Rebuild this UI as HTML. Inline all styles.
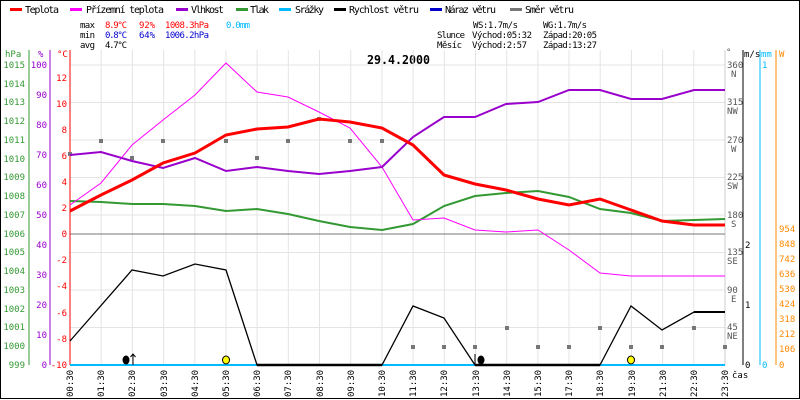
<!DOCTYPE html>
<html><head><meta charset="utf-8"><style>
body{margin:0;background:#fff}
svg{display:block;font-family:"DejaVu Sans Mono","Liberation Mono",monospace}
</style></head><body>
<svg width="800" height="400" viewBox="0 0 800 400" xmlns="http://www.w3.org/2000/svg">
<rect x="0" y="0" width="800" height="400" fill="#fff"/>
<rect x="0.5" y="0.5" width="799" height="398" fill="none" stroke="#000"/>
<!-- legend -->
<g font-size="10" fill="#000" lengthAdjust="spacingAndGlyphs">
<rect x="10" y="8" width="12" height="3" fill="#f00"/><text x="25" y="13" textLength="34">Teplota</text>
<rect x="70" y="8" width="12" height="3" fill="#f0f"/><text x="86" y="13" textLength="78">Přízemní teplota</text>
<rect x="176" y="8" width="12" height="3" fill="#90c"/><text x="191" y="13" textLength="33">Vlhkost</text>
<rect x="236" y="8" width="12" height="3" fill="#393"/><text x="250" y="13" textLength="19">Tlak</text>
<rect x="279" y="8" width="12" height="3" fill="#0bf"/><text x="295" y="13" textLength="29">Srážky</text>
<rect x="334" y="8" width="12" height="3" fill="#000"/><text x="349" y="13" textLength="70">Rychlost větru</text>
<rect x="430" y="8" width="12" height="3" fill="#00c"/><text x="445" y="13" textLength="51">Náraz větru</text>
<rect x="510" y="8" width="12" height="3" fill="#777"/><text x="525" y="13" textLength="49">Směr větru</text>
</g>
<g font-size="9" lengthAdjust="spacingAndGlyphs">
<text x="80" y="28" textLength="15">max</text><text x="105" y="28" fill="#f00" textLength="22">8.9°C</text><text x="139" y="28" fill="#f00" textLength="16">92%</text><text x="165" y="28" fill="#f00" textLength="44">1008.3hPa</text><text x="226" y="28" fill="#0bf" textLength="24">0.0mm</text>
<text x="80" y="38" textLength="15">min</text><text x="105" y="38" fill="#00c" textLength="22">0.8°C</text><text x="139" y="38" fill="#00c" textLength="16">64%</text><text x="165" y="38" fill="#00c" textLength="44">1006.2hPa</text>
<text x="80" y="48" textLength="15">avg</text><text x="105" y="48" textLength="22">4.7°C</text>
<text x="473" y="28" textLength="45">WS:1.7m/s</text><text x="543" y="28" textLength="44">WG:1.7m/s</text>
<text x="437" y="38" textLength="28">Slunce</text><text x="472" y="38" textLength="60">Východ:05:32</text><text x="543" y="38" textLength="54">Západ:20:05</text>
<text x="437" y="48" textLength="25">Měsíc</text><text x="472" y="48" textLength="55">Východ:2:57</text><text x="543" y="48" textLength="54">Západ:13:27</text>
</g>
<text x="367" y="64" font-size="12" font-weight="bold" textLength="63" lengthAdjust="spacingAndGlyphs">29.4.2000</text>
<!-- grid -->
<g stroke="#e4e4e4" stroke-width="1">
<line x1="70" y1="65" x2="725" y2="65"/><line x1="70" y1="102.5" x2="725" y2="102.5"/><line x1="70" y1="140" x2="725" y2="140"/><line x1="70" y1="177.5" x2="725" y2="177.5"/><line x1="70" y1="215" x2="725" y2="215"/><line x1="70" y1="252.5" x2="725" y2="252.5"/><line x1="70" y1="290" x2="725" y2="290"/><line x1="70" y1="327.5" x2="725" y2="327.5"/>
<line x1="101.2" y1="50" x2="101.2" y2="365"/><line x1="132.4" y1="50" x2="132.4" y2="365"/><line x1="163.6" y1="50" x2="163.6" y2="365"/><line x1="194.8" y1="50" x2="194.8" y2="365"/><line x1="226" y1="50" x2="226" y2="365"/><line x1="257.1" y1="50" x2="257.1" y2="365"/><line x1="288.3" y1="50" x2="288.3" y2="365"/><line x1="319.5" y1="50" x2="319.5" y2="365"/><line x1="350.7" y1="50" x2="350.7" y2="365"/><line x1="381.9" y1="50" x2="381.9" y2="365"/><line x1="413.1" y1="50" x2="413.1" y2="365"/><line x1="444.3" y1="50" x2="444.3" y2="365"/><line x1="475.5" y1="50" x2="475.5" y2="365"/><line x1="506.7" y1="50" x2="506.7" y2="365"/><line x1="537.9" y1="50" x2="537.9" y2="365"/><line x1="569" y1="50" x2="569" y2="365"/><line x1="600.2" y1="50" x2="600.2" y2="365"/><line x1="631.4" y1="50" x2="631.4" y2="365"/><line x1="662.6" y1="50" x2="662.6" y2="365"/><line x1="693.8" y1="50" x2="693.8" y2="365"/>
<line x1="725" y1="50" x2="725" y2="365" stroke="#ccc"/>
</g>
<line x1="70" y1="234" x2="725" y2="234" stroke="#777"/>
<!-- left axes -->
<g font-size="9">
<line x1="29" y1="50" x2="29" y2="365" stroke="#393"/>
<line x1="50" y1="50" x2="50" y2="365" stroke="#90c"/>
<line x1="70" y1="50" x2="70" y2="365" stroke="#f00"/>
<text x="5" y="57" fill="#393">hPa</text><text x="38" y="57" fill="#90c">%</text><text x="57" y="57" fill="#f00">°C</text>
<g fill="#393" text-anchor="end">
<text x="25" y="68">1015</text><text x="25" y="87">1014</text><text x="25" y="105">1013</text><text x="25" y="124">1012</text><text x="25" y="143">1011</text><text x="25" y="162">1010</text><text x="25" y="180">1009</text><text x="25" y="199">1008</text><text x="25" y="218">1007</text><text x="25" y="237">1006</text><text x="25" y="255">1005</text><text x="25" y="274">1004</text><text x="25" y="293">1003</text><text x="25" y="312">1002</text><text x="25" y="330">1001</text><text x="25" y="349">1000</text><text x="25" y="368">999</text>
</g>
<g fill="#90c" text-anchor="end">
<text x="47" y="68">100</text><text x="47" y="98">90</text><text x="47" y="128">80</text><text x="47" y="158">70</text><text x="47" y="188">60</text><text x="47" y="218">50</text><text x="47" y="248">40</text><text x="47" y="278">30</text><text x="47" y="308">20</text><text x="47" y="338">10</text><text x="47" y="368">0</text>
</g>
<g fill="#f00" text-anchor="end">
<text x="67" y="81">12</text><text x="67" y="107">10</text><text x="67" y="133">8</text><text x="67" y="159">6</text><text x="67" y="185">4</text><text x="67" y="211">2</text><text x="67" y="237">0</text><text x="67" y="263">-2</text><text x="67" y="289">-4</text><text x="67" y="316">-6</text><text x="67" y="342">-8</text><text x="67" y="368">-10</text>
</g>
</g>
<!-- right axes -->
<g font-size="9">
<line x1="743" y1="50" x2="743" y2="365" stroke="#000"/>
<line x1="760" y1="50" x2="760" y2="365" stroke="#0bf"/>
<line x1="776" y1="50" x2="776" y2="365" stroke="#f80"/>
<text x="726" y="55" fill="#555">°</text>
<text x="744" y="57">m/s</text><text x="761" y="57" fill="#0bf">mm</text><text x="779" y="57" fill="#f80">W</text>
<g fill="#555">
<text x="727" y="68">360</text><text x="731" y="77">N</text>
<text x="727" y="105">315</text><text x="727" y="114">NW</text>
<text x="727" y="143">270</text><text x="731" y="152">W</text>
<text x="727" y="180">225</text><text x="727" y="189">SW</text>
<text x="727" y="218">180</text><text x="731" y="227">S</text>
<text x="727" y="255">135</text><text x="727" y="264">SE</text>
<text x="727" y="293">90</text><text x="731" y="302">E</text>
<text x="727" y="330">45</text><text x="727" y="339">NE</text>
</g>
<text x="745" y="248">2</text><text x="745" y="308">1</text><text x="745" y="368">0</text>
<text x="762" y="68" fill="#0bf">1</text><text x="762" y="368" fill="#0bf">0</text>
<g fill="#f80">
<text x="779" y="232">954</text><text x="779" y="247">848</text><text x="779" y="262">742</text><text x="779" y="277">636</text><text x="779" y="292">530</text><text x="779" y="307">424</text><text x="779" y="322">318</text><text x="779" y="337">212</text><text x="779" y="352">106</text><text x="779" y="368">0</text>
</g>
<text x="732" y="378" fill="#000">čas</text>
</g>
<!-- wind direction -->
<g fill="#777">
<rect x="68" y="152" width="4" height="4"/><rect x="99" y="139" width="4" height="4"/><rect x="130" y="156" width="4" height="4"/><rect x="161" y="139" width="4" height="4"/><rect x="224" y="139" width="4" height="4"/><rect x="255" y="156" width="4" height="4"/><rect x="286" y="139" width="4" height="4"/><rect x="317" y="117" width="4" height="4"/><rect x="348" y="139" width="4" height="4"/><rect x="380" y="139" width="4" height="4"/>
<rect x="411" y="345" width="4" height="4"/><rect x="442" y="345" width="4" height="4"/><rect x="473" y="345" width="4" height="4"/><rect x="505" y="326" width="4" height="4"/><rect x="536" y="345" width="4" height="4"/><rect x="567" y="345" width="4" height="4"/><rect x="598" y="326" width="4" height="4"/><rect x="629" y="345" width="4" height="4"/><rect x="660" y="345" width="4" height="4"/><rect x="692" y="326" width="4" height="4"/><rect x="723" y="345" width="4" height="4"/>
</g>
<!-- series -->
<polyline fill="none" stroke="#393" stroke-width="2" points="70,201 101,202 132,204 163,204 195,206 226,211 257,209 288,214 319,221 350,227 382,230 413,224 444,206 475,196 506,193 538,191 569,197 600,209 631,213 662,221 694,220 725,219"/>
<polyline fill="none" stroke="#f0f" stroke-width="1" points="70,205 101,183 132,145 163,120 195,95 226,63 257,92 288,97 319,112 350,128 382,167 413,220 444,218 475,230 506,232 538,230 569,250 600,273 631,276 662,276 694,276 725,276"/>
<polyline fill="none" stroke="#90c" stroke-width="2" points="70,155 101,152 132,161 163,168 195,158 226,171 257,167 288,171 319,174 350,171 382,167 413,137 444,117 475,117 506,104 538,102 569,90 600,90 631,99 662,99 694,90 725,90"/>
<polyline fill="none" stroke="#f00" stroke-width="3" points="70,211 101,195 132,180 163,163 195,153 226,135 257,129 288,127 319,119 350,122 382,128 413,145 444,175 475,184 506,190 538,199 569,205 600,199 631,210 662,221 694,225 725,225"/>
<line x1="70" y1="365" x2="725" y2="365" stroke="#0bf" stroke-width="2"/>
<polyline fill="none" stroke="#000" stroke-width="1.3" points="70,341 132,270 163,276 195,264 226,270 257,365 382,365 413,306 444,318 475,365 600,365 631,306 662,330 694,312 725,312"/>
<line x1="257" y1="365" x2="382" y2="365" stroke="#000" stroke-width="2.5"/>
<line x1="475" y1="365" x2="600" y2="365" stroke="#000" stroke-width="2.5"/>
<line x1="694" y1="312" x2="725" y2="312" stroke="#000" stroke-width="2"/>
<!-- icons -->
<ellipse cx="126" cy="360" rx="3.5" ry="4.5" fill="#000"/>
<line x1="133" y1="365" x2="133" y2="354" stroke="#000"/><path d="M130.5,357 L133,354 L135.5,357" fill="none" stroke="#000"/>
<ellipse cx="226" cy="360" rx="3.5" ry="4" fill="#ff0" stroke="#000"/>
<line x1="475" y1="354" x2="475" y2="365" stroke="#000"/>
<ellipse cx="481" cy="360" rx="3.5" ry="4.5" fill="#000"/>
<ellipse cx="631" cy="360" rx="3.5" ry="4" fill="#ff0" stroke="#000"/>
<!-- x labels -->
<g font-size="9" fill="#000">
<g transform="translate(73,397) rotate(-90)"><text>00:30</text></g>
<g transform="translate(104,397) rotate(-90)"><text>01:30</text></g>
<g transform="translate(135,397) rotate(-90)"><text>02:30</text></g>
<g transform="translate(167,397) rotate(-90)"><text>03:30</text></g>
<g transform="translate(198,397) rotate(-90)"><text>04:30</text></g>
<g transform="translate(229,397) rotate(-90)"><text>05:30</text></g>
<g transform="translate(260,397) rotate(-90)"><text>06:30</text></g>
<g transform="translate(291,397) rotate(-90)"><text>07:30</text></g>
<g transform="translate(323,397) rotate(-90)"><text>08:30</text></g>
<g transform="translate(354,397) rotate(-90)"><text>09:30</text></g>
<g transform="translate(385,397) rotate(-90)"><text>10:30</text></g>
<g transform="translate(416,397) rotate(-90)"><text>11:30</text></g>
<g transform="translate(447,397) rotate(-90)"><text>12:30</text></g>
<g transform="translate(479,397) rotate(-90)"><text>13:30</text></g>
<g transform="translate(510,397) rotate(-90)"><text>14:30</text></g>
<g transform="translate(541,397) rotate(-90)"><text>15:30</text></g>
<g transform="translate(572,397) rotate(-90)"><text>17:30</text></g>
<g transform="translate(603,397) rotate(-90)"><text>18:30</text></g>
<g transform="translate(635,397) rotate(-90)"><text>19:30</text></g>
<g transform="translate(666,397) rotate(-90)"><text>21:30</text></g>
<g transform="translate(697,397) rotate(-90)"><text>22:30</text></g>
<g transform="translate(728,397) rotate(-90)"><text>23:30</text></g>
</g>
</svg>
</body></html>
